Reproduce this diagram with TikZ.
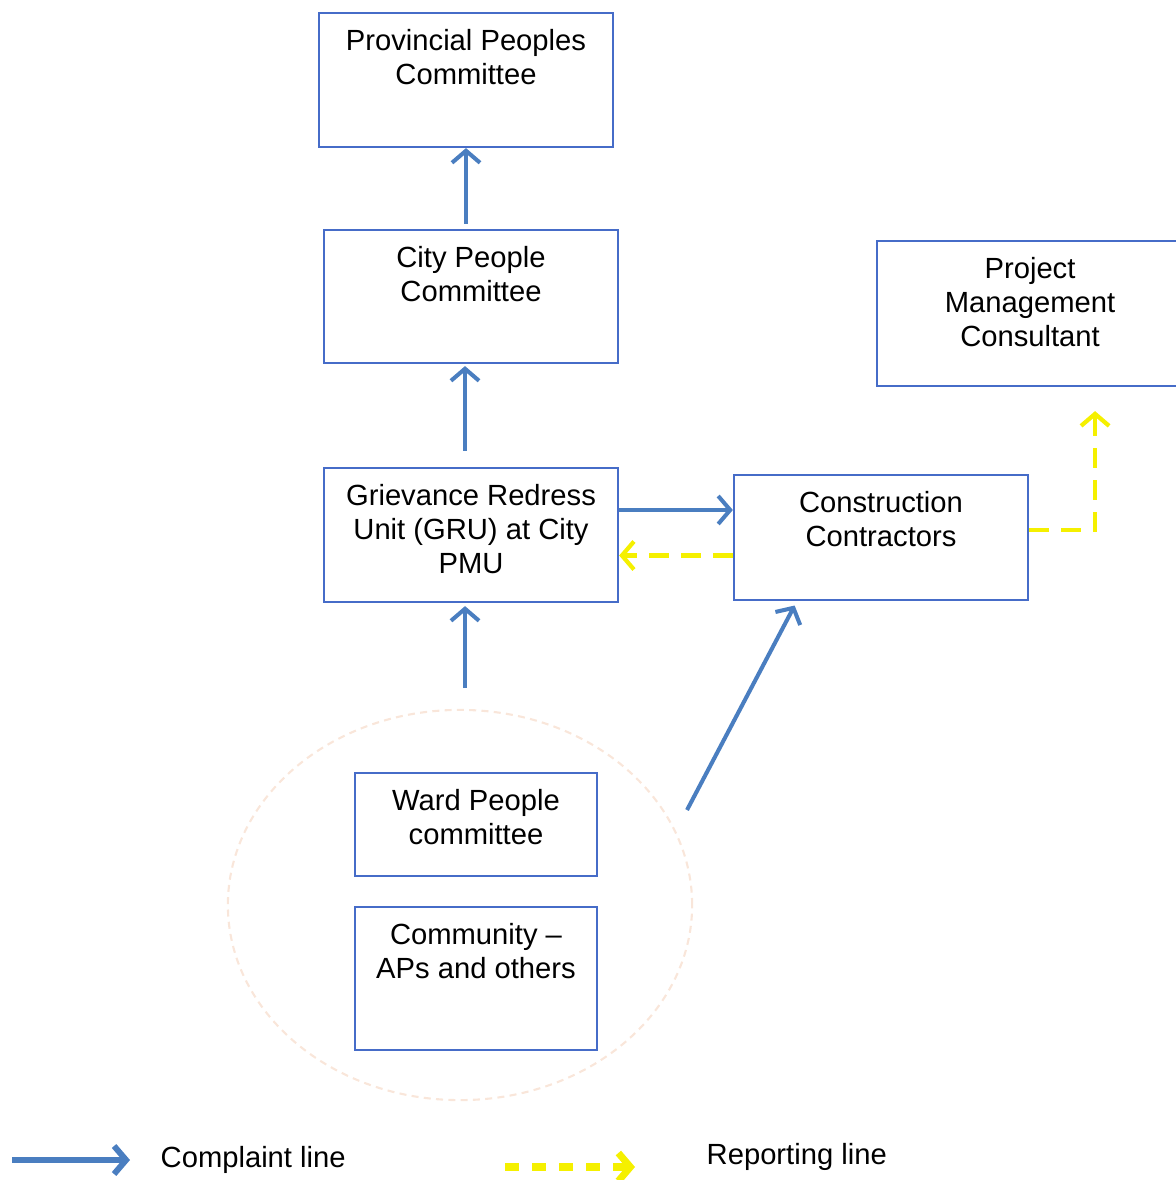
\documentclass[tikz,border=0pt]{standalone}
\usepackage{fontspec}
\setmainfont{Liberation Sans}
\usetikzlibrary{arrows.meta}

\definecolor{boxblue}{RGB}{70,108,200}
\definecolor{arrowblue}{RGB}{74,126,192}
\definecolor{repyellow}{RGB}{245,240,0}
\definecolor{ringpeach}{RGB}{249,230,218}

\tikzset{
  unit/.style={draw=boxblue, line width=0.6pt, inner sep=0pt, minimum width=2.94cm},
  caption/.style={anchor=north, align=center, inner sep=0pt, yshift=-0.165cm},
  complaint/.style={->, draw=arrowblue, line width=1.15pt},
  report/.style={->, draw=repyellow, line width=1.2pt, dash pattern=on 0.2cm off 0.12cm},
}

\begin{document}
\begin{tikzpicture}[x=0.01cm, y=-0.01cm,
    >={Straight Barb[length=1.2mm,width=2.8mm]},
    font=\fontsize{8.3}{9.7}\selectfont]
  \useasboundingbox (0,0) rectangle (1175,1180);

  % the committees
  \node[unit, minimum height=1.34cm, label={[caption]north:{Provincial Peoples\\Committee}}] (ppc) at (466,80) {};
  \node[unit, minimum height=1.33cm, label={[caption]north:{City People\\Committee}}] (cpc) at (471,296.5) {};
  \node[unit, minimum height=1.34cm, label={[caption]north:{Grievance Redress\\Unit (GRU) at City\\PMU}}] (gru) at (471,535) {};
  \node[unit, minimum height=1.25cm, label={[caption]north:{Construction\\Contractors}}] (cc) at (881,537.5) {};
  \node[unit, minimum width=3.06cm, minimum height=1.45cm, label={[caption]north:{Project\\Management\\Consultant}}] (pmc) at (1030,313.5) {};

  % community ring
  \draw[ringpeach, line width=0.6pt, dash pattern=on 2pt off 1.5pt] (460,905) ellipse [x radius=2.32cm, y radius=1.95cm];
  \node[unit, minimum width=2.42cm, minimum height=1.03cm, label={[caption]north:{Ward People\\committee}}] (wpc) at (476,824.5) {};
  \node[unit, minimum width=2.42cm, minimum height=1.43cm, label={[caption]north:{Community --\\APs and others}}] (cap) at (476,978.5) {};
  \coordinate (ringtop) at (465,688);
  \coordinate (ringedge) at (687,810);

  % complaint lines
  \draw[complaint, shorten <=0.05cm] (cpc.north -| ppc.south) -- (ppc.south);
  \draw[complaint, shorten <=0.16cm, shorten >=0.02cm] ([xshift=-0.06cm]gru.north) -- ([xshift=-0.06cm]cpc.south);
  \draw[complaint, shorten >=0.03cm] (ringtop) -- (ringtop |- gru.south);
  \draw[complaint] ([yshift=0.25cm]gru.east) -- ([yshift=0.25cm]gru.east -| cc.west);
  \draw[complaint, shorten >=0.05cm] (ringedge) -- ([xshift=-0.84cm]cc.south);

  % reporting lines
  \draw[report] ([yshift=-0.18cm]cc.west) -- ([yshift=-0.18cm]cc.west -| gru.east);
  \draw[report, shorten >=0.24cm] ([yshift=0.075cm]cc.east) -| ([xshift=0.65cm]pmc.south);

  % legend
  \coordinate (cl0) at (12,1160);
  \coordinate (cl1) at (130,1160);
  \coordinate (rl0) at (505,1167);
  \coordinate (rl1) at (635,1167);
  \draw[complaint, line width=1.7pt] (cl0) -- (cl1);
  \node[anchor=west, inner sep=0pt] (cltext) at (160,1160) {Complaint line};
  \draw[report, line width=2pt, dash pattern=on 0.14cm off 0.13cm] (rl0) -- (rl1);
  \node[anchor=west, inner sep=0pt] (rltext) at (706,1157) {Reporting line};
\end{tikzpicture}
\end{document}
